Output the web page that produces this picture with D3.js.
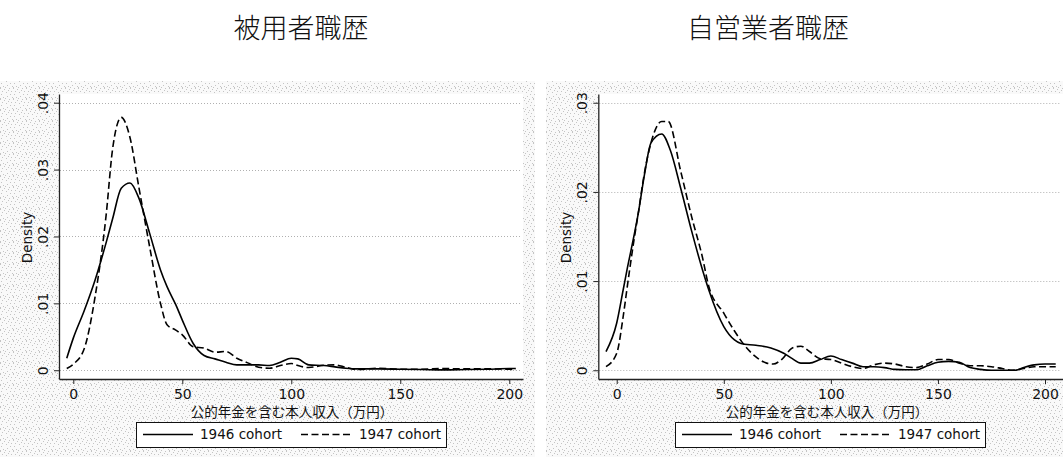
<!DOCTYPE html>
<html><head><meta charset="utf-8">
<script src="https://cdn.jsdelivr.net/npm/d3@7"></script>
<style>
html,body{margin:0;padding:0;background:#fff;}
svg{display:block;}
text{font-family:"DejaVu Sans",Verdana,sans-serif;fill:#111;}
.cjk{font-family:"Noto Sans CJK JP","Noto Sans CJK SC",sans-serif;}
</style></head>
<body>
<script>
// ---- data ----
const titles = ["被用者職歴", "自営業者職歴"];
const xTitle = "公的年金を含む本人収入（万円）";
const seriesNames = ["1946 cohort", "1947 cohort"];
const xTicks = [0, 50, 100, 150, 200];
const yTicksEmp = [0, 0.01, 0.02, 0.03, 0.04];
const yTicksSelf = [0, 0.01, 0.02, 0.03];

// 被用者職歴 panel
const empX1946 = [-3,0,5,10,15,18,22,26,30,35,40,43,47,50,55,60,65,70,75,80,85,90,95,100,103,108,115,120,125,130,140,150,160,170,180,190,200,203];
const emp1946  = [.0018,.0048,.0089,.0135,.019,.0226,.0272,.028,.0258,.0205,.015,.0125,.0098,.0075,.004,.0022,.0017,.0012,.0008,.0008,.0008,.0007,.0012,.0018,.0017,.0008,.0007,.0005,.0003,.0002,.0002,.00015,.0001,.00005,.0001,.00015,.00025,.00025];
const empX1947 = [-3,0,5,10,15,18,22,26,30,35,40,43,47,50,55,60,65,70,75,80,85,90,95,100,103,108,115,120,125,130,140,150,160,170,180,190,200,203];
const emp1947  = [.00025,.0009,.0032,.011,.023,.033,.0378,.0348,.0275,.0185,.010,.0068,.006,.0053,.0035,.0033,.0027,.0028,.0018,.0011,.00045,.0003,.0007,.001,.0007,.0004,.00075,.0008,.00045,.0001,.0003,.00015,.00015,.00025,.0002,.0002,.00015,.00005];

// 自営業者職歴 panel
const selfX1946 = [-5,0,3,5,8,10,13,16,21,25,30,35,40,43,50,55,58,65,72,78,82,86,90,95,100,105,110,115,120,125,130,135,140,145,150,155,160,165,170,175,180,186,190,195,200,205];
const self1946  = [.0021,.0053,.009,.0115,.015,.0175,.022,.0255,.0265,.0247,.0203,.0156,.0113,.009,.0049,.0034,.003,.0028,.0025,.0019,.0013,.0008,.0008,.0012,.0016,.0012,.0008,.0004,.0004,.0003,.0001,.00005,.00005,.0005,.0009,.001,.0009,.0003,.0001,0,0,0,.0003,.0006,.0007,.0007];
const selfX1947 = [-5,0,3,5,8,10,13,16,21,24,30,35,40,43,50,55,60,65,70,73,77,82,86,90,95,100,105,110,115,120,125,130,135,140,145,150,155,160,165,170,175,180,185,190,195,200,205];
const self1947  = [.0004,.0019,.006,.0095,.0145,.0175,.0222,.0255,.0279,.0279,.0222,.0172,.0127,.0094,.0064,.0044,.0027,.0015,.0008,.0007,.0012,.0025,.0027,.0021,.0013,.0012,.0008,.0004,.0002,.0006,.0008,.0007,.0004,.0003,.0007,.0012,.0012,.0008,.0005,.0005,.0004,.0002,0,.0002,.0004,.0004,.0004];

// ---- drawing ----
const W = 1063, H = 458;
const svg = d3.select("body").append("svg").attr("width", W).attr("height", H);

// speckled background pattern (scanned-texture look)
const defs = svg.append("defs");
const pat = defs.append("pattern").attr("id","speck").attr("patternUnits","userSpaceOnUse")
  .attr("width",13).attr("height",11);
pat.append("rect").attr("width",13).attr("height",11).attr("fill","#f9f9f9");
const dots = [[0,0],[4,1],[9,0],[11,3],[2,3],[6,4],[10,6],[1,6],[7,8],[12,9],[3,9],[5,10],[8,2],[0,10]];
dots.forEach(([x,y]) => pat.append("rect").attr("x",x).attr("y",y).attr("width",1).attr("height",1).attr("fill","#c4c4c4"));

const panels = [
  { title: titles[0], titleX: 301, bg: [0, 535], plot: [59, 523],
    xDom: [-6.56, 206.3], yDom: [-0.00131, 0.0413], yTicks: yTicksEmp,
    s1: [empX1946, emp1946], s2: [empX1947, emp1947], xTitleX: 292, legendX: 136 },
  { title: titles[1], titleX: 768, bg: [546, 1063], plot: [598.3, 1063],
    xDom: [-8.6, 208.4], yDom: [-0.00098, 0.03098], yTicks: yTicksSelf,
    s1: [selfX1946, self1946], s2: [selfX1947, self1947], xTitleX: 827, legendX: 675 }
];

const plotTop = 94, plotBottom = 379;
const fmtY = d => d === 0 ? "0" : d3.format(".2f")(d).replace(/^0/, "");

panels.forEach((p, i) => {
  const g = svg.append("g");
  // title
  g.append("text").attr("class","cjk").attr("x", p.titleX).attr("y", 37.5)
    .attr("text-anchor","middle").style("font-size","27px").style("font-weight","300")
    .text(p.title);
  // graph region background
  g.append("rect").attr("x", p.bg[0]).attr("y", 81).attr("width", p.bg[1]-p.bg[0]).attr("height", 376)
    .attr("fill","url(#speck)");
  // plot region
  g.append("rect").attr("x", p.plot[0]).attr("y", plotTop).attr("width", p.plot[1]-p.plot[0])
    .attr("height", plotBottom-plotTop).attr("fill","#fff");

  const x = d3.scaleLinear().domain(p.xDom).range(p.plot);
  const y = d3.scaleLinear().domain(p.yDom).range([plotBottom, plotTop]);

  // gridlines
  g.append("g").selectAll("line").data(p.yTicks).join("line")
    .attr("x1", p.plot[0]+1).attr("x2", p.plot[1]-2)
    .attr("y1", d => Math.round(y(d))+0.5).attr("y2", d => Math.round(y(d))+0.5)
    .attr("stroke","#b0b0b0").attr("stroke-width",1).attr("stroke-dasharray","1,2");

  // x axis
  const xa = g.append("g").attr("transform",`translate(0,${plotBottom})`)
    .call(d3.axisBottom(x).tickValues(xTicks).tickSizeInner(5).tickSizeOuter(0).tickPadding(5).tickFormat(d3.format("d")));
  xa.select(".domain").attr("stroke","#222").attr("stroke-width",1.3);
  xa.selectAll(".tick line").attr("stroke","#222");
  xa.selectAll(".tick text").style("font-size","14px").style("font-family","DejaVu Sans").attr("fill","#111");

  // y axis
  const ya = g.append("g").attr("transform",`translate(${p.plot[0]},0)`)
    .call(d3.axisLeft(y).tickValues(p.yTicks).tickSizeInner(5).tickSizeOuter(0).tickPadding(5).tickFormat(fmtY));
  ya.select(".domain").attr("stroke","#222").attr("stroke-width",1.3);
  ya.selectAll(".tick line").attr("stroke","#222");
  ya.selectAll(".tick text").style("font-size","14px").style("font-family","DejaVu Sans").attr("fill","#111")
    .attr("text-anchor","middle").attr("dy",null).attr("x",null)
    .attr("transform","translate(-16,0) rotate(-90)").attr("y",0).attr("dy","0.35em");

  // y title
  g.append("text").attr("transform",`translate(${p.plot[0]-32},${(plotTop+plotBottom)/2+1}) rotate(-90)`)
    .attr("text-anchor","middle").attr("dy","0.35em").style("font-size","13.5px").text("Density");

  // x title
  g.append("text").attr("class","cjk").attr("x", p.xTitleX).attr("y", 416.5)
    .attr("text-anchor","middle").style("font-size","13.5px").text(xTitle);

  // curves
  const clipId = "clip"+i;
  defs.append("clipPath").attr("id",clipId).append("rect")
    .attr("x",p.plot[0]).attr("y",plotTop-5).attr("width",p.plot[1]-p.plot[0]).attr("height",plotBottom-plotTop+5);
  const line = d3.line().x(d => x(d[0])).y(d => y(d[1])).curve(d3.curveMonotoneX);
  const pts1 = p.s1[0].map((v,k) => [v, p.s1[1][k]]);
  const pts2 = p.s2[0].map((v,k) => [v, p.s2[1][k]]);
  const cg = g.append("g").attr("clip-path",`url(#${clipId})`);
  cg.append("path").attr("d", line(pts2)).attr("fill","none").attr("stroke","#000")
    .attr("stroke-width",1.6).attr("stroke-dasharray","7,3.5");
  cg.append("path").attr("d", line(pts1)).attr("fill","none").attr("stroke","#000")
    .attr("stroke-width",1.6);

  // legend
  const lx = p.legendX, ly = 422;
  const lg = g.append("g");
  lg.append("rect").attr("x", lx+0.5).attr("y", ly+0.5).attr("width", 310).attr("height", 25)
    .attr("fill","#fff").attr("stroke","#111").attr("stroke-width",1);
  const cy = ly + 12.5;
  lg.append("line").attr("x1", lx+7).attr("x2", lx+57).attr("y1", cy).attr("y2", cy)
    .attr("stroke","#000").attr("stroke-width",1.6);
  lg.append("text").attr("x", lx+64).attr("y", cy).attr("dy","0.36em").style("font-size","13.5px").text(seriesNames[0]);
  lg.append("line").attr("x1", lx+165).attr("x2", lx+215).attr("y1", cy).attr("y2", cy)
    .attr("stroke","#000").attr("stroke-width",1.6).attr("stroke-dasharray","7,3.5");
  lg.append("text").attr("x", lx+223).attr("y", cy).attr("dy","0.36em").style("font-size","13.5px").text(seriesNames[1]);
});
</script>
</body></html>
